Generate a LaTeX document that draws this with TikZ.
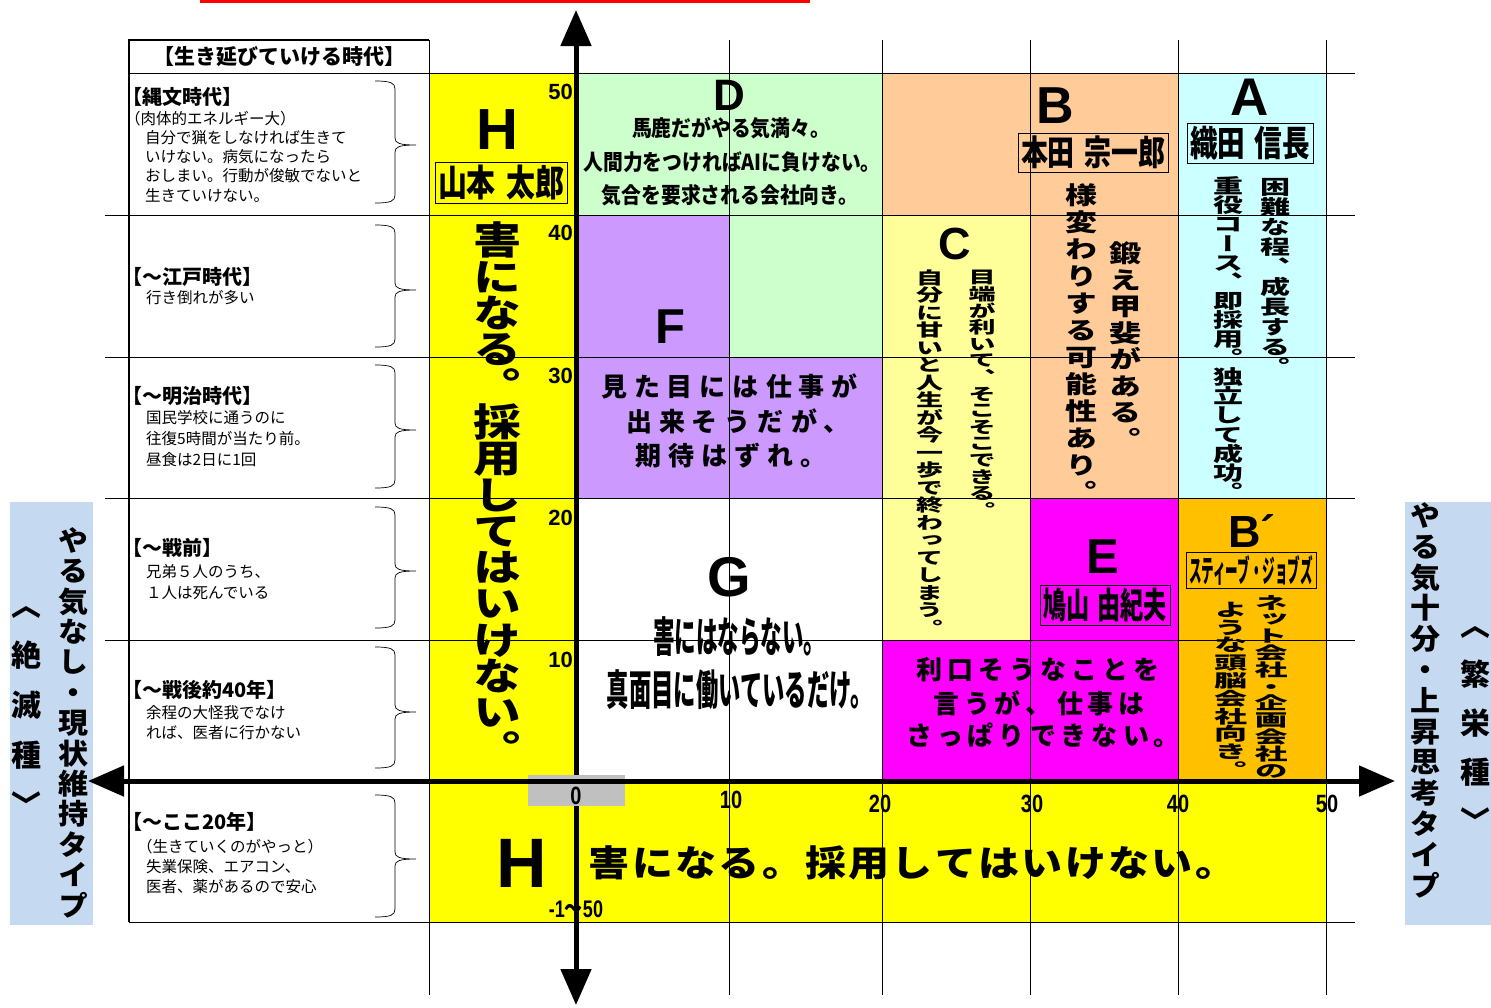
\documentclass[tikz,border=0pt]{standalone}
\usepackage{fontspec}
\usepackage{graphicx}
\usetikzlibrary{arrows.meta}
\setmainfont{Noto Sans CJK JP}
\newfontfamily\jpv{Noto Sans CJK JP}[RawFeature=+vert]
\newfontfamily\lat{Liberation Sans}
\newcommand\fsz[1]{\fontsize{#1}{#1}\selectfont}
\ExplSyntaxOn
\NewDocumentCommand\vt{mmm}{
  \vbox{\offinterlineskip
    \tl_map_inline:nn {#3} {
      \hbox_to_wd:nn {1em} {\hss \vbox_to_ht:nn {#1} {\vss \hbox{\scalebox{1}[#2]{\rule[-.12em]{0pt}{1em}##1}} \vss} \hss}
    }
  }
}
\NewDocumentCommand\hsp{mm}{
  \hbox{\tl_map_inline:nn {#2} {\hbox_to_wd:nn {#1} {\hss ##1 \hss}}}
}
\ExplSyntaxOff
\definecolor{cyel}{HTML}{FFFF00}
\definecolor{cgrn}{HTML}{CCFFCC}
\definecolor{cpur}{HTML}{CC99FF}
\definecolor{cpch}{HTML}{FFCC99}
\definecolor{cly}{HTML}{FFFF99}
\definecolor{ccyn}{HTML}{CCFFFF}
\definecolor{cmag}{HTML}{FF00FF}
\definecolor{corg}{HTML}{FFC000}
\definecolor{cpan}{HTML}{C5D9F1}
\definecolor{cgry}{HTML}{C0C0C0}
\newcommand\brc[3]{\draw[brc] (375,#1) .. controls (391,#1) and (395,#1+2) .. (395,#1+8) -- (395,#2-7) .. controls (395,#2-2) and (399,#2) .. (416,#2) .. controls (399,#2) and (395,#2+2) .. (395,#2+7) -- (395,#3-8) .. controls (395,#3-2) and (391,#3) .. (375,#3);}
\begin{document}
\begin{tikzpicture}[x=1pt,y=-1pt,
  gridl/.style={line width=0.9pt},
  vtx/.style={inner sep=0pt,anchor=north},
  bigl/.style={inner sep=0pt,font=\lat\bfseries\fsz{#1}},
  namebox/.style={draw,line width=0.8pt,inner sep=0pt},
  ttl/.style={inner sep=0pt,anchor=west,font=\bfseries\fsz{20}},
  bdy/.style={inner sep=0pt,anchor=west,font=\fsz{15.5}},
  ylab/.style={inner sep=0pt,anchor=east,font=\lat\bfseries\fsz{22}},
  xlab/.style={inner sep=0pt,font=\lat\bfseries\fsz{25}},
  axln/.style={line width=5pt,{Triangle[length=36pt,width=30pt]}-{Triangle[length=36pt,width=30pt]}},
  brc/.style={line width=0.7pt},
  htx/.style={inner sep=0pt}
]
\fill[white] (0,0) rectangle (1491,1007);
\useasboundingbox (0,0) rectangle (1491,1007);
% top red bar
\fill[red] (200,0) rectangle (810,3);
% side panels
\fill[cpan] (10,502) rectangle (93,925);
\fill[cpan] (1405,502) rectangle (1491,925);
% coloured regions
\fill[cyel] (429,73) rectangle (576,781);
\fill[cyel] (429,781) rectangle (1326,922);
\fill[cgrn] (576,73) rectangle (882,215);
\fill[cgrn] (729,215) rectangle (882,357);
\fill[cpur] (576,215) rectangle (729,357);
\fill[cpur] (576,357) rectangle (882,498);
\fill[cpch] (882,73) rectangle (1178,215);
\fill[cpch] (1030,215) rectangle (1178,498);
\fill[cly] (882,215) rectangle (1030,640);
\fill[ccyn] (1178,73) rectangle (1326,498);
\fill[cmag] (1030,498) rectangle (1178,640);
\fill[cmag] (882,640) rectangle (1178,781);
\fill[corg] (1178,498) rectangle (1326,781);
% grid
\foreach \gx in {429,729,882,1030,1178,1326} \draw[gridl] (\gx,40) -- (\gx,995);
\draw[gridl] (129,73) -- (1355,73);
\foreach \gy in {215,357,498,640} \draw[gridl] (105,\gy) -- (1355,\gy);
\draw[gridl] (129,922) -- (1355,922);
% table frame
\draw[line width=1.8pt] (129,922) -- (129,40) -- (429,40);
% axes
\coordinate (yt) at (576,10);
\coordinate (yb) at (576,1005);
\coordinate (xl) at (88,781);
\coordinate (xr) at (1395,781);
\draw[axln] (yb) -- (yt);
\node[fill=cgry,minimum width=97pt,minimum height=31pt,inner sep=0pt] (zbox) at (576.5,790.5) {};
\node[xlab] (x0) at (576,796) {\scalebox{0.8}[1]{0}};
\draw[axln] (xl) -- (xr);
% braces
\brc{81}{145}{203}
\brc{225}{290}{347}
\brc{365}{430}{488}
\brc{507}{571}{628}
\brc{647}{712}{768}
\brc{795}{859}{917}
% table text
\node[ttl,anchor=center,font=\bfseries\fsz{21}] (hdr) at (279,57) {【生き延びていける時代】};
\node[ttl] (t1) at (122,97) {【縄文時代】};
\node[bdy] (b1a) at (125,119) {（肉体的エネルギー大）};
\node[bdy] (b1b) at (145,138) {自分で猟をしなければ生きて};
\node[bdy] (b1c) at (145,157) {いけない。病気になったら};
\node[bdy] (b1d) at (145,176) {おしまい。行動が俊敏でないと};
\node[bdy] (b1e) at (145,195) {生きていけない。};
\node[ttl] (t2) at (122,277) {【～江戸時代】};
\node[bdy] (b2a) at (146,298) {行き倒れが多い};
\node[ttl] (t3) at (122,396) {【～明治時代】};
\node[bdy] (b3a) at (146,418) {国民学校に通うのに};
\node[bdy] (b3b) at (146,439) {往復5時間が当たり前。};
\node[bdy] (b3c) at (146,460) {昼食は2日に1回};
\node[ttl] (t4) at (122,548) {【～戦前】};
\node[bdy] (b4a) at (146,572) {兄弟５人のうち、};
\node[bdy] (b4b) at (146,593) {１人は死んでいる};
\node[ttl] (t5) at (122,690) {【～戦後約40年】};
\node[bdy] (b5a) at (146,713) {余程の大怪我でなけ};
\node[bdy] (b5b) at (146,733) {れば、医者に行かない};
\node[ttl] (t6) at (122,822) {【～ここ20年】};
\node[bdy] (b6a) at (137,847) {（生きていくのがやっと）};
\node[bdy] (b6b) at (146,867) {失業保険、エアコン、};
\node[bdy] (b6c) at (146,887) {医者、薬があるので安心};
% axis labels
\node[ylab] (y50) at (573,92) {50};
\node[ylab] (y40) at (573,233) {40};
\node[ylab] (y30) at (573,376) {30};
\node[ylab] (y20) at (573,518) {20};
\node[ylab] (y10) at (573,660) {10};
\node[xlab] (x10) at (731,800) {\scalebox{0.8}[1]{10}};
\node[xlab] (x20) at (880,804) {\scalebox{0.8}[1]{20}};
\node[xlab] (x30) at (1032,804) {\scalebox{0.8}[1]{30}};
\node[xlab] (x40) at (1178,804) {\scalebox{0.8}[1]{40}};
\node[xlab] (x50) at (1327,804) {\scalebox{0.8}[1]{50}};
\node[htx,font=\bfseries\fsz{24}] (rng) at (576,909) {\scalebox{0.75}[1]{{\lat -1}～{\lat 50}}};
% big letters
\node[bigl=58] (lH) at (497,130) {H};
\node[bigl=44] (lD) at (729,95) {D};
\node[bigl=52] (lB) at (1055,106) {B};
\node[bigl=53] (lA) at (1250,97) {A};
\node[bigl=45] (lC) at (955,244) {C};
\node[bigl=49] (lF) at (670,327) {F};
\node[bigl=56] (lG) at (729,577) {G};
\node[bigl=49] (lE) at (1103,557) {E};
\node[bigl=45,anchor=base] (lBp) at (1252,547) {B´};
\node[bigl=70] (lH2) at (522,863) {H};
% name boxes
\node[namebox,minimum width=132pt,minimum height=41pt] (n1) at (501,182.5) {\resizebox*{126pt}{35pt}{\bfseries 山本\hspace{.35em}太郎}};
\node[namebox,minimum width=150pt,minimum height=39pt] (n2) at (1093,152.5) {\resizebox*{144pt}{33pt}{\bfseries 本田\hspace{.35em}宗一郎}};
\node[namebox,minimum width=126pt,minimum height=40pt] (n3) at (1250,143) {\resizebox*{120pt}{34pt}{\bfseries 織田\hspace{.35em}信長}};
\node[namebox,minimum width=130pt,minimum height=40pt] (n4) at (1105,605) {\resizebox*{124pt}{34pt}{\bfseries 鳩山\hspace{.35em}由紀夫}};
\node[namebox,minimum width=130pt,minimum height=36pt] (n5) at (1251,570) {\resizebox*{124pt}{30pt}{\bfseries スティーブ・ジョブズ}};
% horizontal texts
\node[htx,font=\bfseries\fsz{22}] (d1) at (731,128) {\scalebox{0.9}[1]{馬鹿だがやる気満々。}};
\node[htx,font=\bfseries\fsz{22}] (d2) at (732,162) {\scalebox{0.9}[1]{人間力をつければAIに負けない。}};
\node[htx,font=\bfseries\fsz{22}] (d3) at (730,195) {\scalebox{0.9}[1]{気合を要求される会社向き。}};
\node[htx,font=\bfseries\fsz{26}] (f1) at (729.5,386) {\hsp{33pt}{見た目には仕事が}};
\node[htx,font=\bfseries\fsz{26}] (f2) at (738,421) {\hsp{33pt}{出来そうだが、}};
\node[htx,font=\bfseries\fsz{26}] (f3) at (731,456) {\hsp{33pt}{期待はずれ。}};
\node[htx,font=\bfseries\fsz{26}] (e1) at (1038,670) {\hsp{31pt}{利口そうなことを}};
\node[htx,font=\bfseries\fsz{26}] (e2) at (1039,703) {\hsp{31pt}{言うが、仕事は}};
\node[htx,font=\bfseries\fsz{26}] (e3) at (1043,735) {\hsp{31pt}{さっぱりできない。}};
\node[htx] (g1) at (739,637) {\resizebox*{172pt}{40pt}{\bfseries 害にはならない。}};
\node[htx] (g2) at (740,690) {\resizebox*{266pt}{40pt}{\bfseries 真面目に働いているだけ。}};
\node[htx,font=\bfseries\fsz{41}] (hb) at (912.5,863) {\scalebox{1}[0.88]{\hsp{43.3pt}{害になる。採用してはいけない。}}};
% vertical texts
\node[vtx,font=\jpv\bfseries\fsz{48}] (hv) at (497,222) {\vt{36.3pt}{0.8}{害になる。採用してはいけない。}};
\node[vtx,font=\jpv\bfseries\fsz{32}] (bv1) at (1081,182) {\vt{27pt}{0.76}{様変わりする可能性あり。}};
\node[vtx,font=\jpv\bfseries\fsz{32}] (bv2) at (1125,240) {\vt{26.5pt}{0.76}{鍛え甲斐がある。}};
\node[vtx,font=\jpv\bfseries\fsz{27}] (cv1) at (982,269) {\vt{16.6pt}{0.62}{目端が利いて、そこそこできる。}};
\node[vtx,font=\jpv\bfseries\fsz{27}] (cv2) at (930,268.5) {\vt{17.5pt}{0.64}{自分に甘いと人生が今一歩で終わってしまう。}};
\node[vtx,font=\jpv\bfseries\fsz{30}] (av1) at (1275,177) {\vt{20pt}{0.66}{困難な程、成長する。}};
\node[vtx,font=\jpv\bfseries\fsz{30}] (av2) at (1228,176.5) {\vt{19.1pt}{0.66}{重役コース、即採用。独立して成功。}};
\node[vtx,font=\jpv\bfseries\fsz{33}] (pv1) at (1271,594) {\vt{16.8pt}{0.52}{ネット会社・企画会社の}};
\node[vtx,font=\jpv\bfseries\fsz{33}] (pv2) at (1231,600.5) {\vt{17.8pt}{0.54}{ような頭脳会社向き。}};
\node[vtx,font=\jpv\bfseries\fsz{30}] (lv1) at (73,525) {\vt{30.4pt}{0.95}{やる気なし・現状維持タイプ}};
\node[vtx,font=\jpv\bfseries\fsz{30}] (lv2) at (27,580) {\vt{50pt}{1}{〈絶滅種〉}};
\node[vtx,font=\jpv\bfseries\fsz{30}] (rv1) at (1425,500) {\vt{30.8pt}{0.95}{やる気十分・上昇思考タイプ}};
\node[vtx,font=\jpv\bfseries\fsz{30}] (rv2) at (1475,600) {\vt{49pt}{1}{〈繁栄種〉}};
\end{tikzpicture}
\end{document}
